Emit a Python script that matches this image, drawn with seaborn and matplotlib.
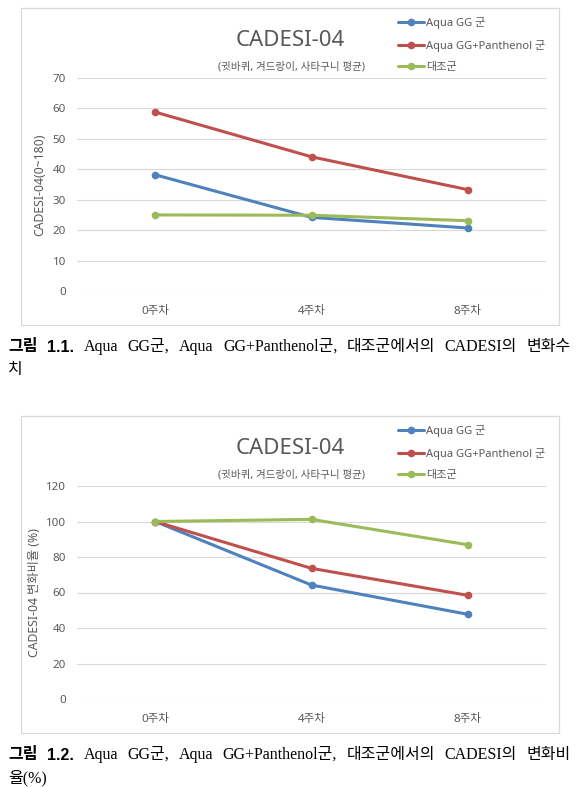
import pandas as pd
import matplotlib.pyplot as plt
from matplotlib.patches import Rectangle
import seaborn as sns

# data
weeks = ['0주차', '4주차', '8주차']
groups = ['Aqua GG 군', 'Aqua GG+Panthenol 군', '대조군']
score_aqua = [38.2, 24.2, 20.7]
score_panthenol = [58.8, 44.1, 33.3]
score_control = [25.0, 24.9, 23.1]
ratio_aqua = [100, 64.2, 47.7]
ratio_panthenol = [100, 73.6, 58.4]
ratio_control = [100, 101.2, 86.9]

palette = ['#4F81BD', '#C0504D', '#9BBB59']
grey = '#595959'

sns.set_style('white')
plt.rcParams['font.family'] = ['Noto Sans', 'Noto Sans CJK KR', 'DejaVu Sans']

W, H = 581, 787
fig = plt.figure(figsize=(W / 100, H / 100), dpi=100)


def fx(x):
    return x / W


def fy(y):
    return 1 - y / H


def long_df(series):
    rows = []
    for g, vals in zip(groups, series):
        for w, v in zip(weeks, vals):
            rows.append({'week': w, 'group': g, 'value': v})
    return pd.DataFrame(rows)


def draw_chart(box_top, ax_top, ax_bottom, series, ymax, ystep, ylabel, ylabel_x):
    # chart frame
    box_h = 317
    fig.add_artist(Rectangle((fx(21), fy(box_top + box_h)), 538 / W, box_h / H,
                             transform=fig.transFigure, fill=False,
                             edgecolor='#D9D9D9', lw=0.9))
    ax = fig.add_axes([fx(77), fy(ax_bottom), 469 / W, (ax_bottom - ax_top) / H])
    df = long_df(series)
    sns.lineplot(data=df, x='week', y='value', hue='group', hue_order=groups,
                 palette=palette, marker='o', markersize=5.5, markeredgewidth=0,
                 linewidth=2.2, ax=ax, sort=False)
    ax.set_xlim(-0.5, 2.5)
    ax.set_ylim(0, ymax)
    ax.set_yticks(range(0, ymax + 1, ystep))
    ax.grid(axis='y', color='#D9D9D9', lw=0.8)
    ax.set_axisbelow(True)
    sns.despine(ax=ax, left=True, bottom=True)
    ax.tick_params(length=0, labelsize=8.3, colors=grey)
    ax.tick_params(axis='y', pad=8)
    ax.tick_params(axis='x', pad=11)
    ax.set_xlabel('')
    ax.set_ylabel(ylabel, fontsize=8.8, color=grey)
    ax.yaxis.label.set_va('center')
    ax.yaxis.set_label_coords((ylabel_x - 77) / 469, 0.5)
    ax.legend(loc='upper left', bbox_to_anchor=(fx(398), fy(box_top + 9)),
              bbox_transform=fig.transFigure, frameon=False, fontsize=8,
              borderpad=0, borderaxespad=0, handlelength=2.3,
              handletextpad=0.2, labelspacing=0.95, labelcolor=grey)
    fig.text(fx(290), fy(box_top + 32), 'CADESI-04', fontsize=16,
             color=grey, ha='center', va='center')
    fig.text(fx(291), fy(box_top + 59), '(귓바퀴, 겨드랑이, 사타구니 평균)',
             fontsize=7.6, color=grey, ha='center', va='center')
    return ax


draw_chart(8, 78, 291, [score_aqua, score_panthenol, score_control],
           70, 10, 'CADESI-04(0~180)', 40)
draw_chart(416, 486, 699, [ratio_aqua, ratio_panthenol, ratio_control],
           120, 20, 'CADESI-04 변화비율 (%)', 35)

cap_font = ['Liberation Serif', 'Noto Sans CJK KR']


def caption(y, words, line2, x0=8, x1=571):
    # justified first line, like the document's caption
    texts = []
    for i, w in enumerate(words):
        if i < 2:
            t = fig.text(0, fy(y), w, fontsize=11.5, fontweight='bold',
                         family=['Liberation Sans', 'Noto Sans CJK KR'],
                         ha='left', va='center', color='black')
        else:
            t = fig.text(0, fy(y), w, fontsize=11.5, family=cap_font,
                         ha='left', va='center', color='black')
        texts.append(t)
    fig.canvas.draw()
    r = fig.canvas.get_renderer()
    widths = [t.get_window_extent(r).width for t in texts]
    gap = (x1 - x0 - sum(widths)) / (len(texts) - 1)
    x = x0
    for t, wd in zip(texts, widths):
        t.set_x(fx(x))
        x += wd + gap
    fig.text(fx(x0), fy(y + 23), line2, fontsize=11.5, family=cap_font,
             ha='left', va='center', color='black')


caption(347, ['그림', '1.1.', 'Aqua', 'GG군,', 'Aqua', 'GG+Panthenol군,',
              '대조군에서의', 'CADESI의', '변화수'], '치')
caption(755, ['그림', '1.2.', 'Aqua', 'GG군,', 'Aqua', 'GG+Panthenol군,',
              '대조군에서의', 'CADESI의', '변화비'], '율(%)')

fig.savefig('out.png', dpi=100, facecolor='white')
